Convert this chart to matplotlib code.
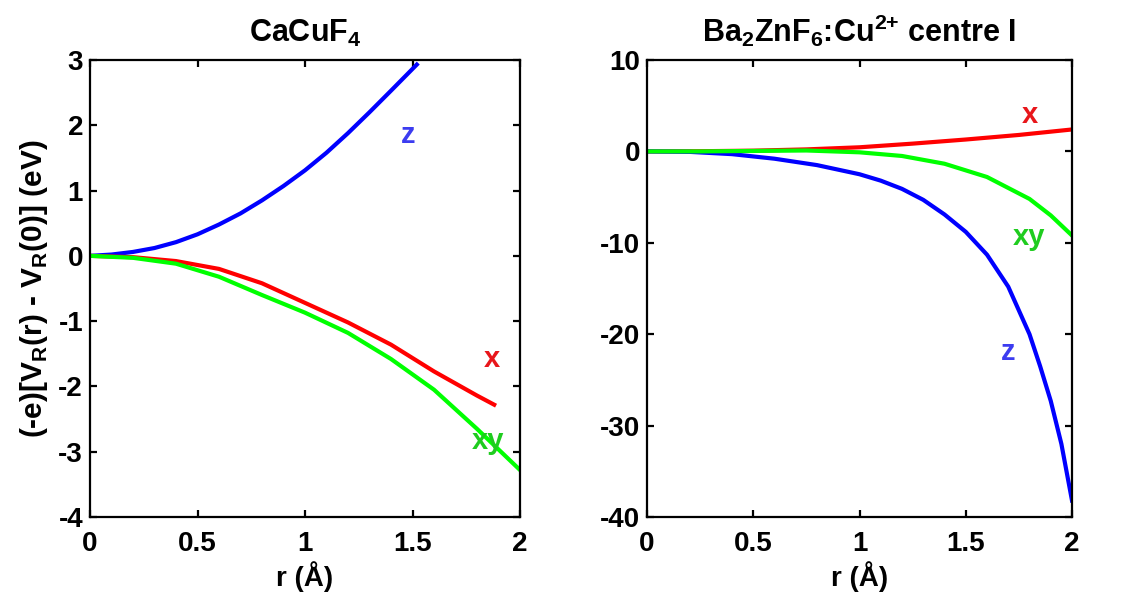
import numpy as np
import matplotlib
matplotlib.use('Agg')
import matplotlib.pyplot as plt

# ---- data ----
# left panel: CaCuF4
left_z_r = [0, 0.1, 0.2, 0.3, 0.4, 0.5, 0.6, 0.7, 0.8, 0.9, 1.0, 1.1, 1.2, 1.3, 1.4, 1.52]
left_z_v = [0, 0.02, 0.06, 0.12, 0.21, 0.33, 0.48, 0.65, 0.85, 1.07, 1.31, 1.58, 1.88, 2.2, 2.53, 2.93]

left_x_r = [0, 0.2, 0.4, 0.6, 0.8, 1.0, 1.2, 1.4, 1.6, 1.8, 1.88]
left_x_v = [0, -0.02, -0.08, -0.2, -0.42, -0.72, -1.02, -1.36, -1.77, -2.14, -2.28]

left_xy_r = [0, 0.2, 0.4, 0.6, 0.8, 1.0, 1.2, 1.4, 1.6, 1.8, 2.0]
left_xy_v = [0, -0.03, -0.12, -0.32, -0.6, -0.87, -1.18, -1.58, -2.05, -2.65, -3.28]

# right panel: Ba2ZnF6:Cu2+ centre I
right_x_r = [0, 0.25, 0.5, 0.75, 1.0, 1.25, 1.5, 1.75, 2.0]
right_x_v = [0, 0.02, 0.08, 0.22, 0.45, 0.85, 1.3, 1.8, 2.4]

right_xy_r = [0, 0.25, 0.5, 0.75, 1.0, 1.2, 1.4, 1.6, 1.8, 1.9, 2.0]
right_xy_v = [0, 0, 0.05, 0.1, -0.1, -0.5, -1.35, -2.8, -5.2, -7.0, -9.2]

right_z_r = [0, 0.2, 0.4, 0.6, 0.8, 1.0, 1.1, 1.2, 1.3, 1.4, 1.5, 1.6, 1.7, 1.8, 1.85, 1.9, 1.95, 2.0]
right_z_v = [0, -0.05, -0.3, -0.8, -1.5, -2.5, -3.2, -4.1, -5.3, -6.9, -8.8, -11.3, -14.8, -20.0, -23.5, -27.3, -32.0, -38.2]

plt.rcParams['font.family'] = ['Liberation Sans', 'DejaVu Sans']
plt.rcParams['font.weight'] = 'bold'
plt.rcParams['mathtext.default'] = 'bf'

fig = plt.figure(figsize=(11.27, 6.01), dpi=100)
ax1 = fig.add_axes([90/1127, 84/601, 430/1127, 457/601])
ax2 = fig.add_axes([647/1127, 84/601, 425/1127, 457/601])

lw = 3.0
ax1.plot(left_z_r, left_z_v, color='#0000ff', lw=lw)
ax1.plot(left_x_r, left_x_v, color='#ff0000', lw=lw)
ax1.plot(left_xy_r, left_xy_v, color='#00ff00', lw=lw)

ax2.plot(right_x_r, right_x_v, color='#ff0000', lw=lw)
ax2.plot(right_z_r, right_z_v, color='#0000ff', lw=lw)
ax2.plot(right_xy_r, right_xy_v, color='#00ff00', lw=lw)

lab = dict(fontsize=21, fontweight='bold', ha='center', va='center')
ax1.text(1.48, 1.85, 'z', color='#3c3cf0', **lab)
ax1.text(1.87, -1.58, 'x', color='#e8161b', **lab)
ax1.text(1.85, -2.84, 'xy', color='#1fcc1f', **lab)

ax2.text(1.80, 4.0, 'x', color='#e8161b', **lab)
ax2.text(1.80, -9.4, 'xy', color='#1fcc1f', **lab)
ax2.text(1.70, -21.9, 'z', color='#3c3cf0', **lab)

ax1.set_xlim(0, 2)
ax1.set_ylim(-4, 3)
ax1.set_xticks([0, 0.5, 1, 1.5, 2])
ax1.set_xticklabels(['0', '0.5', '1', '1.5', '2'])
ax1.set_yticks(range(-4, 4))
ax1.set_yticklabels([str(v) for v in range(-4, 4)])

ax2.set_xlim(0, 2)
ax2.set_ylim(-40, 10)
ax2.set_xticks([0, 0.5, 1, 1.5, 2])
ax2.set_xticklabels(['0', '0.5', '1', '1.5', '2'])
ax2.set_yticks(range(-40, 11, 10))
ax2.set_yticklabels([str(v) for v in range(-40, 11, 10)])

for ax in (ax1, ax2):
    for s in ax.spines.values():
        s.set_linewidth(1.6)
    ax.tick_params(direction='in', length=5, width=1.6, top=True, right=True,
                   labelsize=20)
    ax.tick_params(axis='x', pad=10)
    ax.tick_params(axis='y', pad=5)
    for t in ax.get_xticklabels() + ax.get_yticklabels():
        t.set_fontweight('bold')
    ax.set_xlabel('r (Å)', fontsize=20, fontweight='bold', labelpad=3)

ax1.set_ylabel('(-e)[V$_\\mathregular{R}$(r) - V$_\\mathregular{R}$(0)] (eV)',
               fontsize=21.5, fontweight='bold', labelpad=6)
ax1.set_title('CaCuF$_\\mathregular{4}$', fontsize=22, fontweight='bold', pad=13)
ax2.set_title('Ba$_\\mathregular{2}$ZnF$_\\mathregular{6}$:Cu$^\\mathregular{2{+}}$ centre I',
              fontsize=22, fontweight='bold', pad=13)

fig.savefig('out.png', dpi=100)
